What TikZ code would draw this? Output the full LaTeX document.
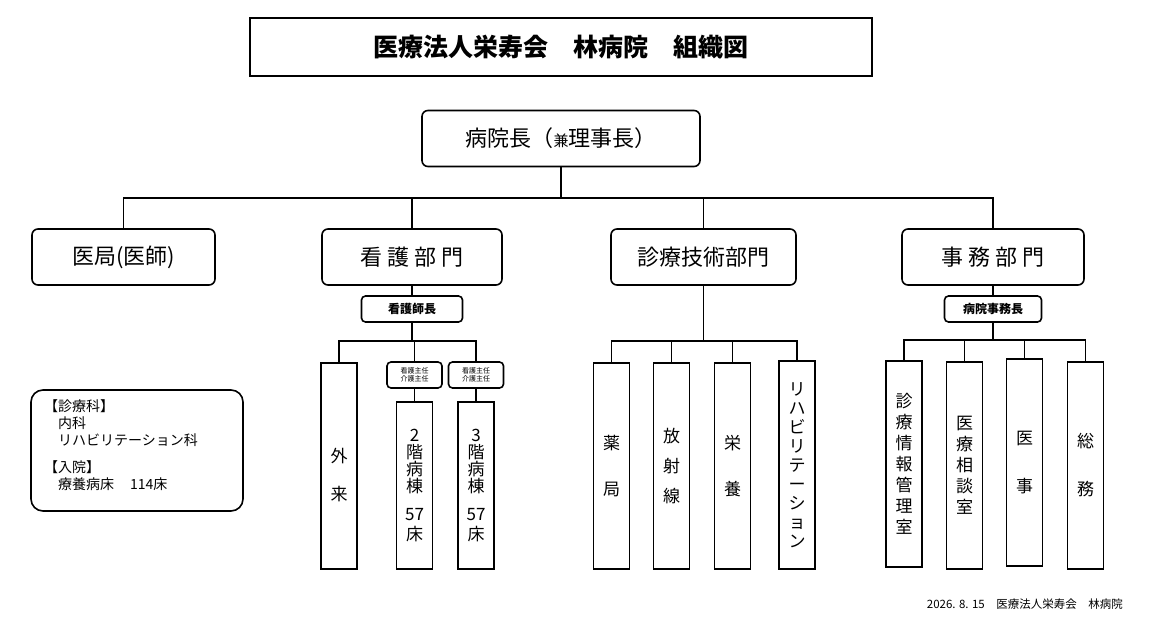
\documentclass[tikz,border=0pt]{standalone}
\usepackage{fontspec}
\setmainfont{Noto Sans CJK JP}
\begin{document}
\begin{tikzpicture}[x=1pt,y=-1pt,
 line width=1.6pt,
 rb/.style={draw,rounded corners=6pt,minimum height=56pt,font=\fontsize{22}{26}\selectfont},
 sb/.style={draw,rounded corners=4pt,minimum height=26pt,font=\bfseries\fontsize{12}{14}\selectfont},
 tb/.style={draw,rounded corners=4pt,minimum width=55pt,minimum height=26pt,align=center,font=\fontsize{7}{8}\selectfont},
 vb/.style={draw,anchor=north,minimum width=36pt,align=center,font=\fontsize{17}{24}\selectfont},
 ln/.style={line width=1.6pt}]
\useasboundingbox (0,0) rectangle (1150,620);
\node[draw,line width=1.8pt,minimum width=622pt,minimum height=58pt,font=\bfseries\fontsize{25}{30}\selectfont] (title) at (561,47) {医療法人栄寿会\quad 林病院\quad 組織図};
\node[rb,minimum width=278pt] (top) at (561,138.5) {病院長（{\fontsize{15}{16}\selectfont 兼}理事長）};
\node[rb,minimum width=183pt] (ikyoku) at (123.5,257) {医局(医師)};
\node[rb,minimum width=180pt] (kango) at (412,257) {看\ 護\ 部\ 門};
\node[rb,minimum width=185pt] (shinryo) at (703.5,257) {診療技術部門};
\node[rb,minimum width=182pt] (jimu) at (993,257) {事\ 務\ 部\ 門};
\coordinate (j1) at (561,198);
\draw[ln] (top.south) -- (j1);
\foreach \n in {ikyoku,kango,shinryo,jimu}{\draw[ln] (j1) -| (\n.north);}
% nursing
\node[sb,minimum width=101pt] (shicho) at (412,309) {看護師長};
\draw[ln] (kango.south) -- (shicho.north);
\coordinate (j2) at (412,341);
\draw[ln] (shicho.south) -- (j2);
\node[vb,minimum height=206pt] (gairai) at (339,362) {\\[8pt]外\\[14pt]来};
\node[tb] (sh1) at (414.5,375) {看護主任\\介護主任};
\node[tb] (sh2) at (476,375) {看護主任\\介護主任};
\node[vb,minimum height=167pt] (b2) at (414.5,401) {2\\[-7pt]階\\[-7pt]病\\[-7pt]棟\\[4pt]57\\[-4pt]床};
\node[vb,minimum height=167pt] (b3) at (476,401) {3\\[-7pt]階\\[-7pt]病\\[-7pt]棟\\[4pt]57\\[-4pt]床};
\draw[ln] (j2) -| (gairai.north);
\draw[ln] (j2) -| (sh1.north);
\draw[ln] (j2) -| (sh2.north);
\draw[ln] (sh1.south) -- (b2.north);
\draw[ln] (sh2.south) -- (b3.north);
% tech
\coordinate (j3) at (703.5,341);
\draw[ln] (shinryo.south) -- (j3);
\node[vb,minimum height=206pt] (yaku) at (611.5,362) {薬\\[22pt]局};
\node[vb,minimum height=206pt] (hosha) at (671.5,362) {放\\[6pt]射\\[6pt]線};
\node[vb,minimum height=206pt] (eiyo) at (732.5,362) {栄\\[22pt]養};
\node[vb,minimum height=208pt,font=\fontsize{17}{19}\selectfont] (reha) at (797,360) {リ\\ハ\\ビ\\リ\\テ\\ー\\シ\\ョ\\ン};
\foreach \n in {yaku,hosha,eiyo,reha}{\draw[ln] (j3) -| (\n.north);}
% office
\node[sb,minimum width=97pt] (jimucho) at (993,309) {病院事務長};
\draw[ln] (jimu.south) -- (jimucho.north);
\coordinate (j4) at (993,340);
\draw[ln] (jimucho.south) -- (j4);
\node[vb,minimum height=206pt,font=\fontsize{17}{21}\selectfont] (o1) at (904,360) {診\\療\\情\\報\\管\\理\\室};
\node[vb,minimum height=207pt,font=\fontsize{17}{21}\selectfont] (o2) at (964.5,361) {医\\療\\相\\談\\室};
\node[vb,minimum height=207pt] (o3) at (1024.5,358) {医\\[24pt]事};
\node[vb,minimum height=207pt] (o4) at (1085.5,361) {総\\[24pt]務};
\foreach \n in {o1,o2,o3,o4}{\draw[ln] (j4) -| (\n.north);}
% info
\node[draw,rounded corners=12pt,minimum width=212pt,minimum height=121pt] (info) at (137,450.5) {};
\node[anchor=north west,align=left,font=\fontsize{14}{17}\selectfont] (infotext) at (40,396) {【診療科】\\\hspace*{14pt}内科\\\hspace*{14pt}リハビリテーション科\\[10pt]【入院】\\\hspace*{14pt}療養病床\hspace*{16pt}114床};
\node[anchor=east,font=\fontsize{11.5}{13}\selectfont] (foot) at (1127,604) {2026. 8. 15\quad 医療法人栄寿会\quad 林病院};
\end{tikzpicture}
\end{document}
